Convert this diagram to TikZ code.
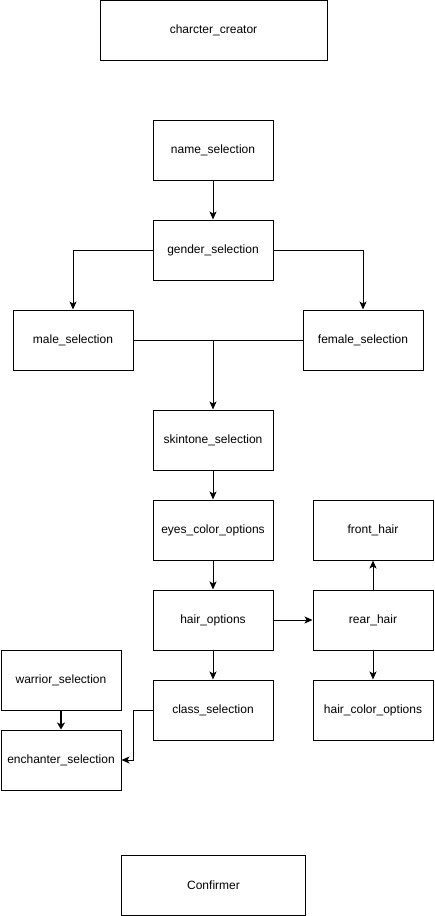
\documentclass[tikz,border=0pt]{standalone}
\usepackage{fontspec}
\setmainfont{Liberation Sans}
\usetikzlibrary{arrows.meta}
\begin{document}
\begin{tikzpicture}[x=1pt,y=-1pt,
  box/.style={draw=black,line width=1pt,fill=white,inner sep=0pt,
    minimum width=120pt,minimum height=60pt,font=\fontsize{12}{14}\selectfont},
  link/.style={line width=1pt,-{Stealth[length=8pt,width=7pt,inset=2pt]}},
  plain/.style={line width=1pt}]
\useasboundingbox (0,0) rectangle (434,916);
% title and footer
\node[box,minimum width=227pt] (creator) at (213.5,30) {charcter\_creator};
\node[box,minimum width=184pt] (confirm) at (213.5,885) {Confirmer};
% main column
\node[box] (name) at (213,150) {name\_selection};
\node[box] (gender) at (213,250) {gender\_selection};
\node[box] (male) at (73,340) {male\_selection};
\node[box] (female) at (363,340) {female\_selection};
\node[box] (skin) at (213,440) {skintone\_selection};
\node[box] (eyes) at (213,530) {eyes\_color\_options};
\node[box] (hair) at (213,620) {hair\_options};
\node[box] (class) at (213,710) {class\_selection};
% hair branch
\node[box] (front) at (373,530) {front\_hair};
\node[box] (rear) at (373,620) {rear\_hair};
\node[box] (haircol) at (373,710) {hair\_color\_options};
% class branch
\node[box] (warrior) at (61,680) {warrior\_selection};
\node[box] (enchant) at (61,760) {enchanter\_selection};
% connectors
\draw[link] (name) -- (gender);
\draw[link] (gender.west) -| (male.north);
\draw[link] (gender.east) -| (female.north);
\coordinate (join) at (213,340);
\draw[plain] (male.east) -- (female.west);
\draw[link] (join) -- (skin.north);
\draw[link] (skin) -- (eyes);
\draw[link] (eyes) -- (hair);
\draw[link] (hair) -- (class);
\draw[link] (hair) -- (rear);
\draw[link] (rear) -- (front);
\draw[link] (rear) -- (haircol);
\draw[line width=2pt,-{Stealth[length=7pt,width=8pt,inset=2pt]}] (warrior) -- (enchant);
\coordinate (bend) at (133,710);
\draw[link] (class.west) -- (bend) |- (enchant.east);
\end{tikzpicture}
\end{document}
